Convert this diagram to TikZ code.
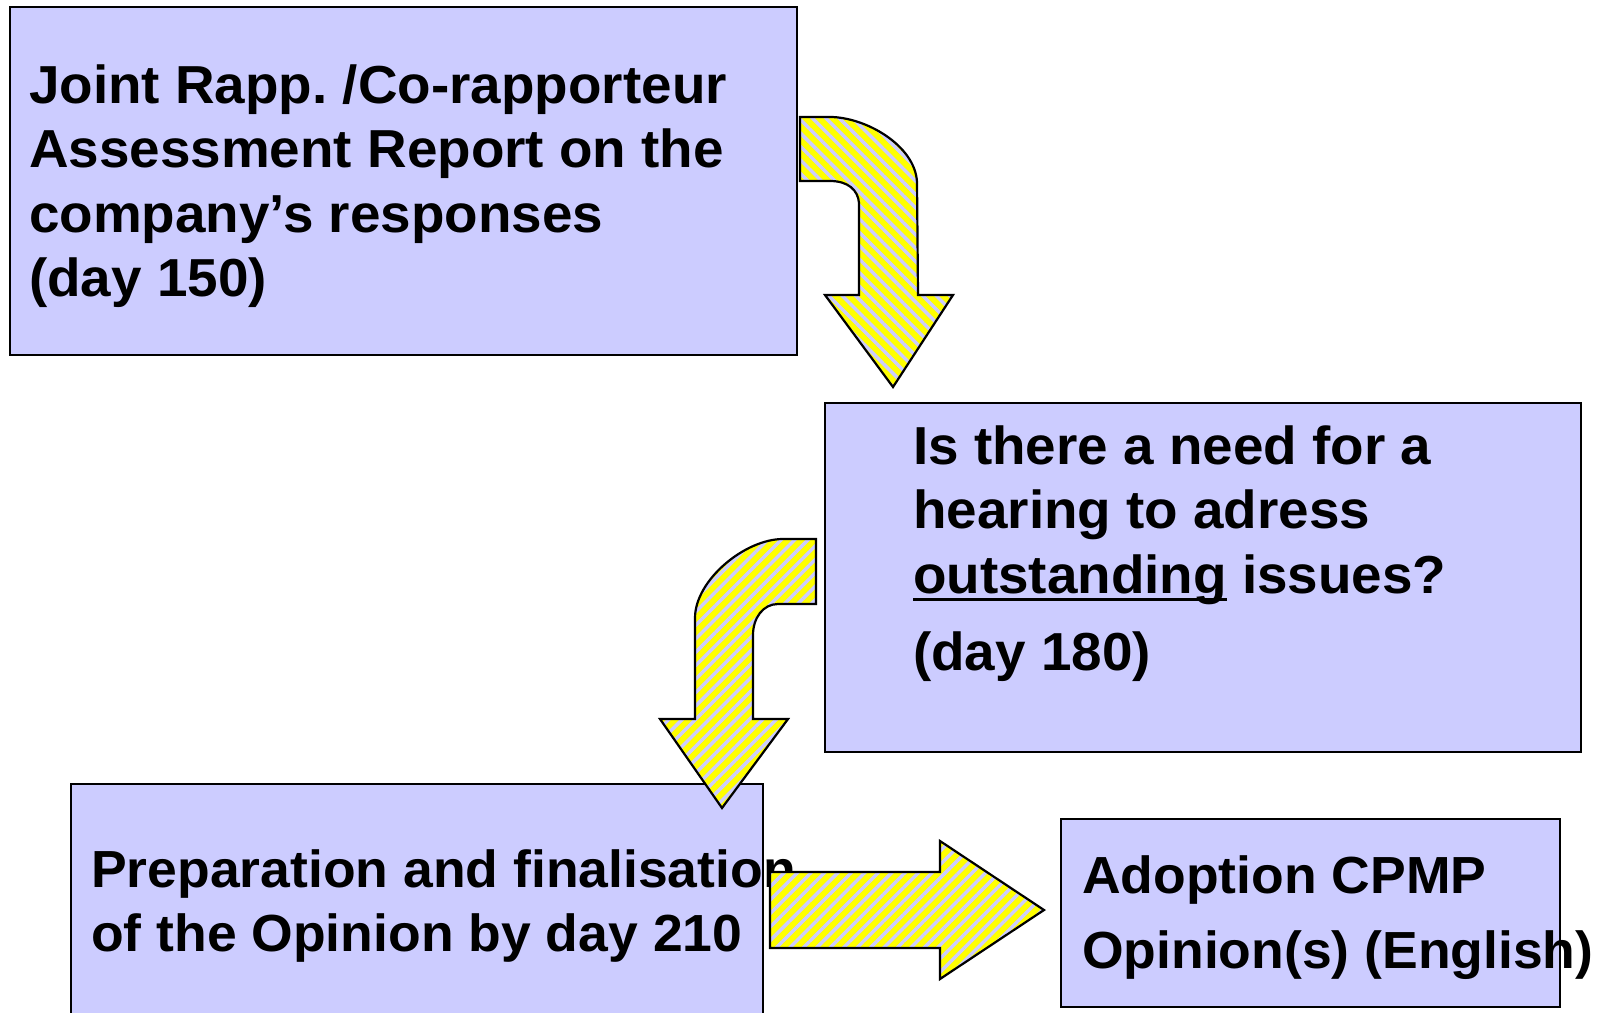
\documentclass[tikz,border=0pt]{standalone}
\usepackage{fontspec}
\setmainfont{Liberation Sans}[FakeStretch=1.025]
\usetikzlibrary{patterns.meta}
\definecolor{lav}{HTML}{CCCCFF}
\definecolor{yel}{HTML}{FFFF00}
\newcommand{\myul}[1]{\setbox0\hbox{#1}\rlap{\rule[-8pt]{\wd0}{3pt}}\box0\relax}
\frenchspacing
\begin{document}
\begin{tikzpicture}[x=1pt,y=-1pt,
  box/.style={draw=black, line width=2.2pt, fill=lav, rectangle, inner sep=0pt, anchor=north west},
  txt/.style={anchor=base west, inner sep=0pt, font=\bfseries\fontsize{53.5}{64.5}\selectfont},
  txtsmall/.style={txt, font=\bfseries\fontsize{52.2}{64}\selectfont},
  blockarrow/.style={draw=black, line width=2.2pt, line join=miter, preaction={fill=yel},
    pattern={Lines[angle=#1,distance=9.5pt,line width=3.4pt]}, pattern color=lav},
  blockarrow/.default=45]
\useasboundingbox (0,0) rectangle (1597,1012);
\fill[white] (0,0) rectangle (1597,1012);

% boxes
\node[box, minimum width=787pt, minimum height=348pt] (b1) at (9,6) {};
\node[box, minimum width=756pt, minimum height=349pt] (b2) at (824,402) {};
\node[box, minimum width=692pt, minimum height=260pt] (b3) at (70,783) {};
\node[box, minimum width=499pt, minimum height=188pt] (b4) at (1060,818) {};

% texts
\node[txt] (t1) at (29,103) {\vtop{\hbox{Joint Rapp. /Co-rapporteur}\hbox{Assessment Report on the}\hbox{company’s responses}\hbox{(day 150)}}};
\node[txt] (t2) at (913,464) {\vtop{\hbox{Is there a need for a}\hbox{hearing to adress}\hbox{\myul{outstanding} issues?}\vskip 13pt\hbox{(day 180)}}};
\node[txtsmall] (t3) at (91,887) {\vtop{\hbox{Preparation and finalisation}\hbox{of the Opinion by day 210}}};
\node[txtsmall] (t4) at (1082,893) {\vtop{\baselineskip=75pt\hbox{Adoption CPMP}\hbox{Opinion(s) (English)}}};

% block arrows
\path[blockarrow=-45] (800,117) -- (830,117) .. controls (865,117) and (915,145) .. (917,182)
  -- (918,295) -- (953,295) -- (893,387) -- (825,295) -- (859,295) -- (859,203)
  .. controls (858,190) and (848,181) .. (830,181) -- (800,181) -- cycle;
\path[blockarrow=45] (816,539) -- (783,539) .. controls (745,539) and (695,580) .. (695,618)
  -- (695,719) -- (660,719) -- (722,808) -- (788,719) -- (753,719) -- (753,635)
  .. controls (753,618) and (763,604) .. (778,604) -- (816,604) -- cycle;
\path[blockarrow=45] (770,872) -- (940,872) -- (940,841) -- (1044,910) -- (940,979)
  -- (940,948) -- (770,948) -- cycle;
\end{tikzpicture}
\end{document}
